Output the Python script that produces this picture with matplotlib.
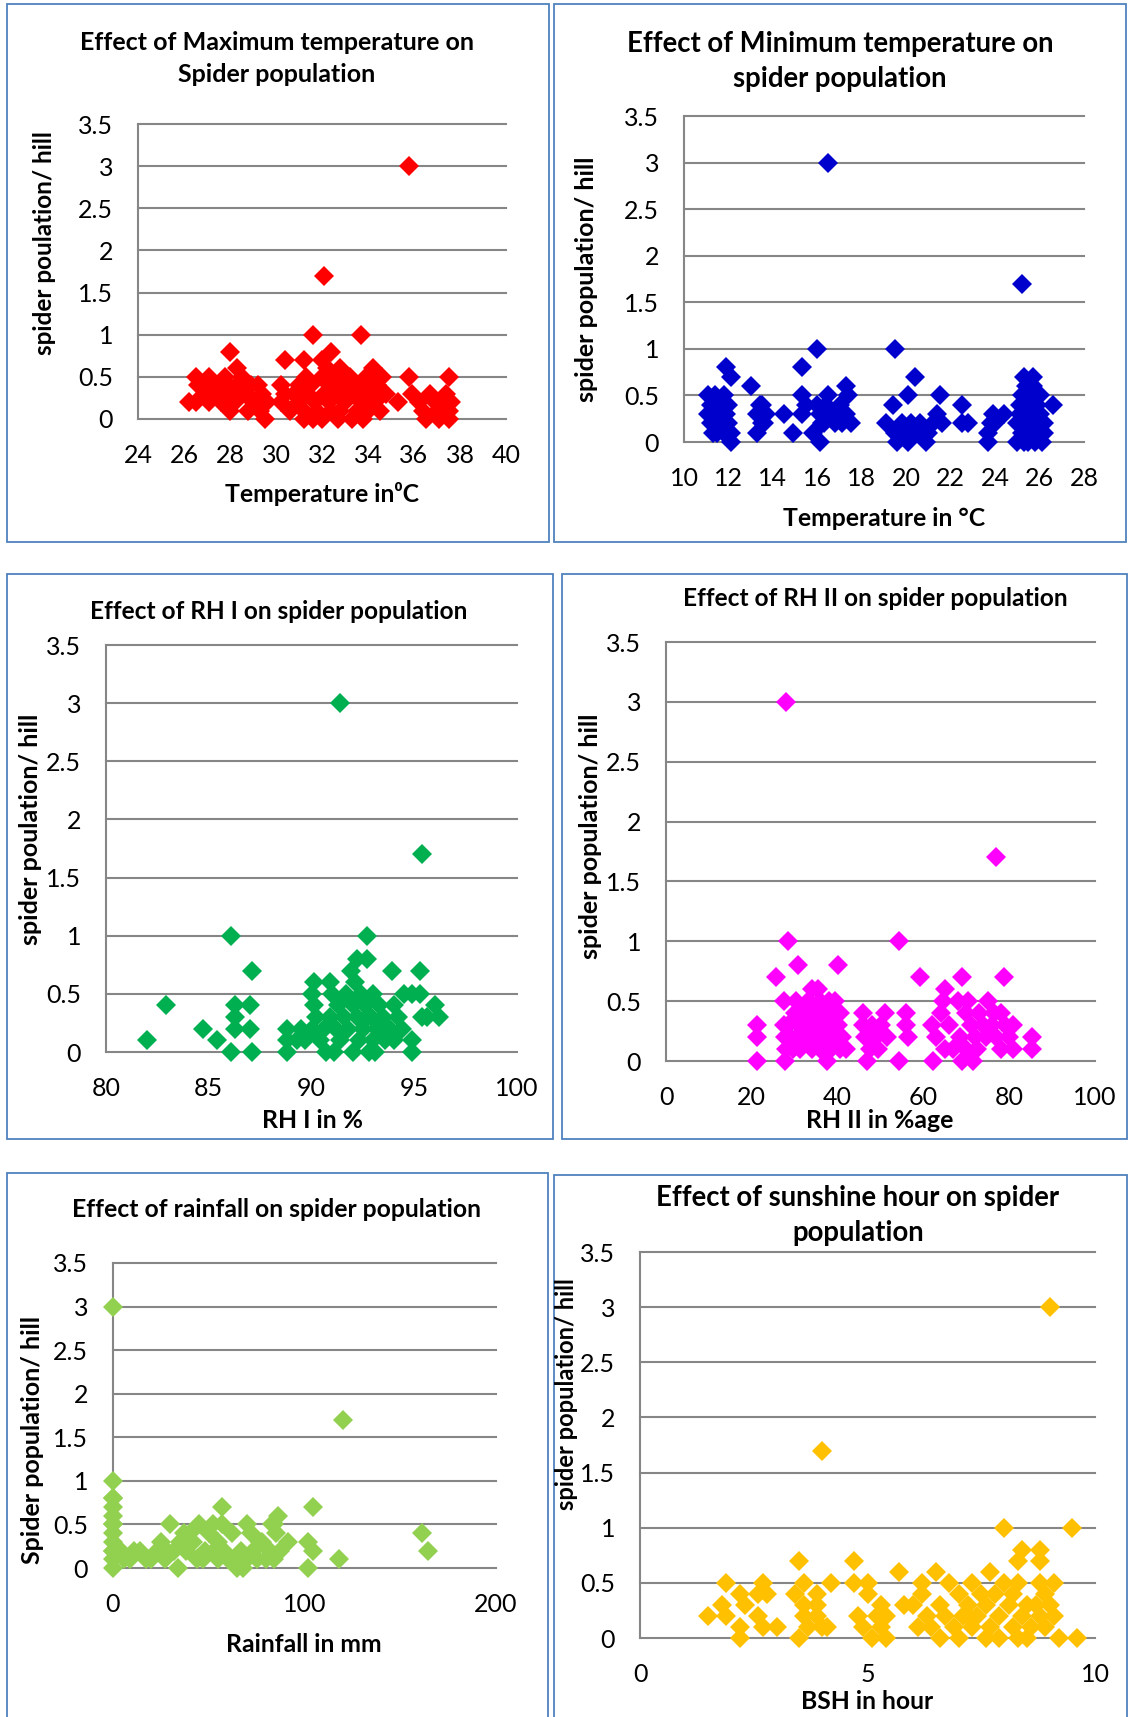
import matplotlib
matplotlib.use("Agg")
import matplotlib.pyplot as plt
from matplotlib.patches import Rectangle

plt.rcParams['font.family'] = ['Lato', 'DejaVu Sans']

# ---- data ----
# maximum temperature
tmax_x = [35.8, 32.1, 31.6, 33.7, 28.0, 30.4, 31.2, 32.0, 32.4, 35.8, 37.5,
          26.2, 26.5, 26.5, 26.6, 26.9, 27.1, 27.1, 27.3, 27.5, 27.6, 27.8, 27.9, 28.0, 28.0,
          28.2, 28.3, 28.3, 28.5, 28.7, 28.8, 28.9, 29.0, 29.2, 29.3, 29.4, 29.5, 29.6,
          30.2, 30.2, 30.4, 30.6, 30.8, 31.0, 31.0, 31.2, 31.2, 31.3, 31.4, 31.5, 31.6, 31.7,
          31.8, 32.0, 32.0, 32.1, 32.2, 32.3, 32.3, 32.4, 32.5, 32.6, 32.7, 32.8, 32.8, 32.9,
          33.0, 33.0, 33.2, 33.3, 33.4, 33.5, 33.6, 33.7, 33.8, 33.9, 34.0, 34.0, 34.1, 34.2,
          34.3, 34.4, 34.5, 34.6, 34.8, 35.3,
          35.9, 36.2, 36.4, 36.5, 36.7, 36.9, 37.0, 37.1, 37.3, 37.4, 37.5, 37.5, 37.6]
tmax_y = [3.0, 1.7, 1.0, 1.0, 0.8, 0.7, 0.7, 0.7, 0.8, 0.5, 0.5,
          0.2, 0.2, 0.5, 0.4, 0.3, 0.5, 0.2, 0.4, 0.3, 0.2, 0.5, 0.4, 0.3, 0.1,
          0.2, 0.6, 0.4, 0.5, 0.3, 0.1, 0.4, 0.2, 0.4, 0.1, 0.3, 0.0, 0.2,
          0.4, 0.2, 0.3, 0.1, 0.3, 0.4, 0.2, 0.0, 0.1, 0.5, 0.3, 0.4, 0.0, 0.2,
          0.1, 0.5, 0.0, 0.3, 0.6, 0.4, 0.2, 0.1, 0.5, 0.3, 0.0, 0.6, 0.1, 0.3,
          0.4, 0.2, 0.5, 0.0, 0.3, 0.1, 0.4, 0.2, 0.0, 0.5, 0.3, 0.1, 0.5, 0.6,
          0.2, 0.4, 0.1, 0.5, 0.3, 0.2,
          0.3, 0.2, 0.1, 0.0, 0.3, 0.2, 0.1, 0.0, 0.2, 0.3, 0.1, 0.0, 0.2]

# minimum temperature
tmin_x = [16.5, 25.2, 16.0, 19.5, 11.9, 12.1, 13.0, 15.3, 20.4, 20.1, 21.5, 22.5, 25.3, 25.7, 26.6,
          11.1, 11.1, 11.2, 11.2, 11.3, 11.4, 11.5, 11.5, 11.6, 11.6, 11.8, 11.8, 11.9, 12.0, 12.0, 12.1, 12.1,
          13.3, 13.3, 13.4, 13.5, 13.5, 13.6, 13.7, 14.5, 14.9,
          15.3, 15.3, 15.5, 15.8, 16.0, 16.1, 16.1, 16.2, 16.3, 16.4, 16.5, 16.7, 16.8, 17.0, 17.1, 17.3, 17.3, 17.4, 17.5,
          19.1, 19.4, 19.5, 19.6, 19.8, 20.0, 20.1, 20.2, 20.5, 20.6, 20.8, 20.9, 21.0, 21.2, 21.4, 21.6,
          22.5, 22.8, 23.7, 23.7, 23.8, 23.9, 24.0, 24.4,
          25.0, 25.0, 25.1, 25.1, 25.2, 25.2, 25.3, 25.3, 25.4, 25.4, 25.5, 25.5, 25.6, 25.6, 25.7, 25.7,
          25.8, 25.8, 25.9, 25.9, 26.0, 26.0, 26.1, 26.2, 26.2]
tmin_y = [3.0, 1.7, 1.0, 1.0, 0.8, 0.7, 0.6, 0.8, 0.7, 0.5, 0.5, 0.4, 0.7, 0.7, 0.4,
          0.5, 0.3, 0.4, 0.2, 0.1, 0.5, 0.3, 0.1, 0.2, 0.4, 0.5, 0.1, 0.3, 0.2, 0.4, 0.0, 0.1,
          0.1, 0.3, 0.4, 0.2, 0.4, 0.2, 0.3, 0.3, 0.1,
          0.5, 0.3, 0.4, 0.1, 0.4, 0.3, 0.0, 0.2, 0.2, 0.4, 0.5, 0.3, 0.2, 0.4, 0.2, 0.6, 0.3, 0.5, 0.2,
          0.2, 0.4, 0.1, 0.0, 0.2, 0.1, 0.0, 0.2, 0.1, 0.2, 0.1, 0.0, 0.1, 0.2, 0.3, 0.2,
          0.2, 0.2, 0.1, 0.0, 0.2, 0.3, 0.2, 0.3,
          0.0, 0.2, 0.4, 0.3, 0.5, 0.1, 0.3, 0.0, 0.6, 0.2, 0.0, 0.4, 0.1, 0.5, 0.3, 0.6,
          0.0, 0.2, 0.4, 0.1, 0.3, 0.5, 0.0, 0.2, 0.1]

# RH I
rh1_x = [91.4, 95.4, 86.1, 92.7, 87.1, 82.9, 82.0, 84.7, 85.4, 86.1, 87.1, 86.3, 87.0, 86.3, 86.3, 87.0,
         93.9, 95.3, 92.2, 92.7, 91.9, 90.1, 90.9,
         88.8, 88.8, 88.8, 89.3, 89.5, 89.7, 90.0, 90.0, 90.1, 90.2, 90.4, 90.6, 90.7, 90.9,
         91.0, 91.1, 91.2, 91.3, 91.4, 91.6, 91.7, 91.8, 92.0, 92.0, 92.1, 92.2, 92.3, 92.4,
         92.5, 92.6, 92.7, 92.8, 92.9, 93.0, 93.0, 93.1, 93.2, 93.3, 93.5, 93.6, 93.8, 94.0,
         94.0, 94.2, 94.4, 94.5, 94.9, 94.9, 94.9, 95.3, 95.4, 95.6, 96.0, 96.2]
rh1_y = [3.0, 1.7, 1.0, 1.0, 0.7, 0.4, 0.1, 0.2, 0.1, 0.0, 0.0, 0.4, 0.4, 0.3, 0.2, 0.2,
         0.7, 0.7, 0.8, 0.8, 0.7, 0.6, 0.6,
         0.2, 0.1, 0.0, 0.1, 0.2, 0.1, 0.2, 0.5, 0.4, 0.3, 0.1, 0.2, 0.0, 0.3,
         0.5, 0.0, 0.2, 0.4, 0.1, 0.3, 0.5, 0.2, 0.0, 0.4, 0.6, 0.3, 0.1, 0.5,
         0.2, 0.4, 0.3, 0.0, 0.3, 0.1, 0.5, 0.0, 0.2, 0.4, 0.3, 0.1, 0.2, 0.4,
         0.1, 0.3, 0.2, 0.5, 0.5, 0.1, 0.0, 0.5, 0.3, 0.3, 0.4, 0.3]

# RH II
rh2_x = [28.0, 77.0, 28.5, 54.4, 30.8, 40.2, 25.6, 59.2, 68.9, 78.8, 21.1, 21.1, 21.1, 85.2, 85.2,
         27.5, 27.6, 27.7, 27.8, 28.0, 28.5, 29.0, 29.5, 30.0, 30.3, 30.5, 31.0, 31.2, 32.0,
         32.5, 33.0, 33.5, 34.0, 34.0, 34.5, 35.0, 35.5, 35.8, 36.0, 36.0, 36.5, 37.0, 37.5,
         38.0, 38.0, 38.5, 39.0, 39.0, 39.5, 40.0, 40.5, 40.5, 41.0, 42.0,
         46.0, 46.0, 46.8, 46.5, 47.5, 48.0, 49.0, 49.5, 50.0, 51.0, 51.5, 54.3, 56.0, 56.0, 56.5,
         62.0, 62.3, 63.0, 64.0, 64.5, 65.0, 65.0, 66.0, 67.0, 68.0, 68.5, 69.0, 70.0, 70.0,
         70.5, 71.0, 71.5, 72.0, 72.5, 73.0, 74.0, 74.5, 75.0, 76.0, 76.5, 77.0, 78.0, 78.0,
         79.0, 80.0, 81.0, 81.0]
rh2_y = [3.0, 1.7, 1.0, 1.0, 0.8, 0.8, 0.7, 0.7, 0.7, 0.7, 0.3, 0.2, 0.0, 0.2, 0.1,
         0.5, 0.3, 0.2, 0.0, 0.1, 0.3, 0.2, 0.1, 0.4, 0.5, 0.2, 0.3, 0.1, 0.4,
         0.2, 0.5, 0.3, 0.6, 0.1, 0.4, 0.2, 0.6, 0.5, 0.3, 0.1, 0.4, 0.2, 0.0,
         0.5, 0.3, 0.1, 0.4, 0.2, 0.5, 0.3, 0.4, 0.1, 0.2, 0.1,
         0.4, 0.3, 0.0, 0.2, 0.1, 0.3, 0.2, 0.1, 0.3, 0.4, 0.2, 0.0, 0.4, 0.3, 0.2,
         0.3, 0.0, 0.2, 0.4, 0.5, 0.6, 0.1, 0.3, 0.1, 0.5, 0.2, 0.0, 0.4, 0.1,
         0.5, 0.3, 0.0, 0.2, 0.1, 0.4, 0.3, 0.2, 0.5, 0.3, 0.4, 0.2, 0.4, 0.1,
         0.3, 0.2, 0.3, 0.1]

# rainfall
rain_x = [0, 120, 0, 104.6, 56.7, 161.2, 164.3, 118.0, 102.0, 102.0, 104.6, 91.5, 86.3, 84.0,
          0, 0, 0, 0, 0, 0, 0, 0, 0, 0, 0, 0,
          4, 6, 9, 11, 14, 17, 20, 23, 25, 27, 28, 30, 32, 34, 35, 37, 38, 40, 42, 44,
          45, 47, 48, 50, 52, 53, 55, 55, 57, 58, 60, 62, 63, 65, 67, 68, 70, 70, 72, 73,
          75, 77, 78, 80, 82, 83, 84, 85, 87]
rain_y = [3.0, 1.7, 1.0, 0.7, 0.7, 0.4, 0.2, 0.1, 0.0, 0.3, 0.2, 0.3, 0.6, 0.5,
          0.8, 0.7, 0.6, 0.5, 0.4, 0.3, 0.2, 0.1, 0.0, 0.8, 0.5, 0.2,
          0.2, 0.1, 0.1, 0.2, 0.2, 0.1, 0.1, 0.2, 0.3, 0.1, 0.2, 0.5, 0.2, 0.0, 0.3, 0.4, 0.2, 0.4, 0.3, 0.1,
          0.5, 0.1, 0.2, 0.4, 0.5, 0.2, 0.3, 0.1, 0.5, 0.2, 0.1, 0.4, 0.1, 0.0, 0.2, 0.0, 0.5, 0.1, 0.4, 0.2,
          0.1, 0.3, 0.3, 0.1, 0.2, 0.5, 0.1, 0.4, 0.2]

# bright sunshine hours
bsh_x = [9.0, 4.0, 8.0, 9.5, 8.4, 8.8, 8.3, 8.8, 3.5, 4.7, 5.7, 6.5, 7.7,
         1.5, 1.8, 1.9, 1.9, 2.2, 2.2, 2.2, 2.3, 2.6, 2.6, 2.7, 2.7, 2.8, 3.0, 3.4,
         3.5, 3.6, 3.6, 3.6, 3.7, 3.9, 3.9, 3.9, 4.0, 4.1, 4.2, 4.7, 4.8, 4.9, 5.0,
         5.0, 5.1, 5.2, 5.3, 5.3, 5.4, 5.4, 5.8, 6.0, 6.1, 6.2, 6.2, 6.3, 6.4, 6.6,
         6.6, 6.7, 6.8, 6.9, 7.0, 7.0, 7.1, 7.2, 7.3, 7.3, 7.4, 7.5, 7.6, 7.6, 7.7,
         7.8, 7.9, 7.9, 8.0, 8.1, 8.2, 8.2, 8.3, 8.3, 8.4, 8.5, 8.5, 8.6, 8.8, 8.8,
         8.9, 8.9, 9.0, 9.1, 9.1, 9.2, 9.6, 8.7, 7.2]
bsh_y = [3.0, 1.7, 1.0, 1.0, 0.8, 0.8, 0.7, 0.7, 0.7, 0.7, 0.6, 0.6, 0.6,
         0.2, 0.3, 0.5, 0.2, 0.4, 0.1, 0.0, 0.3, 0.4, 0.2, 0.5, 0.1, 0.4, 0.1, 0.4,
         0.0, 0.3, 0.2, 0.5, 0.1, 0.4, 0.3, 0.2, 0.1, 0.1, 0.5, 0.5, 0.2, 0.1, 0.4,
         0.5, 0.0, 0.2, 0.1, 0.3, 0.0, 0.2, 0.3, 0.3, 0.1, 0.5, 0.4, 0.2, 0.1, 0.3,
         0.0, 0.2, 0.5, 0.1, 0.4, 0.0, 0.2, 0.3, 0.5, 0.1, 0.2, 0.4, 0.3, 0.0, 0.1,
         0.4, 0.2, 0.0, 0.5, 0.3, 0.1, 0.4, 0.0, 0.5, 0.2, 0.0, 0.3, 0.1, 0.5, 0.2,
         0.4, 0.1, 0.3, 0.5, 0.2, 0.0, 0.0, 0.3, 0.2]

y_ticks = [0, 0.5, 1, 1.5, 2, 2.5, 3, 3.5]
y_ticklabels = ['0', '0.5', '1', '1.5', '2', '2.5', '3', '3.5']

W, H = 1128, 1717
fig = plt.figure(figsize=(W / 100, H / 100), dpi=100)
GRID = '#868686'


def px(x, y):
    return x / W, 1 - y / H


def frame(x0, y0, x1, y1):
    fig.add_artist(Rectangle((x0 / W, 1 - y1 / H), (x1 - x0) / W, (y1 - y0) / H,
                             transform=fig.transFigure, fill=False,
                             ec='#4F81BD', lw=1.3))


def panel(box, x, y, color, xlim, xticks):
    l, t, r, b = box
    ax = fig.add_axes([l / W, 1 - b / H, (r - l) / W, (b - t) / H])
    ax.plot(x, y, 'D', color=color, ms=9.8, mew=0, clip_on=False, zorder=3)
    ax.set_xlim(*xlim)
    ax.set_ylim(0, 3.5)
    ax.set_xticks(xticks)
    ax.set_xticklabels([str(v) for v in xticks])
    ax.set_yticks(y_ticks)
    ax.set_yticklabels(y_ticklabels)
    ax.yaxis.grid(True, color=GRID, lw=1.5, clip_on=False)
    for s in ['top', 'right', 'bottom']:
        ax.spines[s].set_visible(False)
    ax.spines['left'].set_color(GRID)
    ax.spines['left'].set_linewidth(1.5)
    ax.tick_params(length=0, labelsize=18, colors='black')
    ax.tick_params(axis='y', pad=18)
    ax.tick_params(axis='x', pad=18)
    ax.patch.set_alpha(0)
    return ax


def text(x, y, s, size=17, rot=0, **kw):
    fig.text(*px(x, y), s, ha='center', va='center', fontsize=size,
             fontweight='bold', rotation=rot, **kw)


# panel frames
frame(7, 4, 549, 542)
frame(554, 4, 1126, 542)
frame(7, 574, 553, 1139)
frame(562, 574, 1127, 1139)
frame(7, 1173, 548, 1730)
frame(554, 1175, 1127, 1730)

# 1 maximum temperature
panel((138, 124, 506, 419), tmax_x, tmax_y, '#FF0000', (24, 40), list(range(24, 41, 2)))
text(277, 42, 'Effect of Maximum temperature on', 18)
text(277, 75, 'Spider population', 18)
text(322, 494, 'Temperature in\u2070C', 17.8)
text(45, 243, 'spider poulation/ hill', 17.5, 90)

# 2 minimum temperature
panel((684, 116, 1084, 442), tmin_x, tmin_y, '#0000CC', (10, 28), list(range(10, 29, 2)))
text(840, 44, 'Effect of Minimum temperature on', 19.8)
text(840, 79, 'spider population', 19.8)
text(884, 518, 'Temperature in \u00b0C', 17.8)
text(587, 279, 'spider population/ hill', 18, 90)

# 3 RH I
panel((106, 645, 517, 1052), rh1_x, rh1_y, '#00B050', (80, 100), [80, 85, 90, 95, 100])
text(279, 611, 'Effect of RH I on spider population', 17.6)
text(312, 1120, 'RH I in %', 17.8)
text(31, 829, 'spider poulation/ hill', 18, 90)

# 4 RH II
panel((666, 642, 1095, 1061), rh2_x, rh2_y, '#FF00FF', (0, 100), [0, 20, 40, 60, 80, 100])
text(875, 598, 'Effect of RH II on spider population', 17.6)
text(880, 1120, 'RH II in %age', 17.8)
text(591, 836, 'spider population/ hill', 18, 90)

# 5 rainfall
panel((113, 1263, 496, 1568), rain_x, rain_y, '#92D050', (0, 200), [0, 100, 200])
text(277, 1209, 'Effect of rainfall on spider population', 17.8)
text(304, 1644, 'Rainfall in mm', 17.8)
text(33, 1440, 'Spider population/ hill', 18, 90)

# 6 sunshine hours
panel((640, 1252, 1095, 1638), bsh_x, bsh_y, '#FFC000', (0, 10), [0, 5, 10])
text(858, 1198, 'Effect of sunshine hour on spider', 19.8)
text(858, 1233, 'population', 19.8)
text(867, 1701, 'BSH in hour', 17.8)
text(567, 1394, 'spider population/ hill', 17, 90)

fig.savefig('out.png', dpi=100)
